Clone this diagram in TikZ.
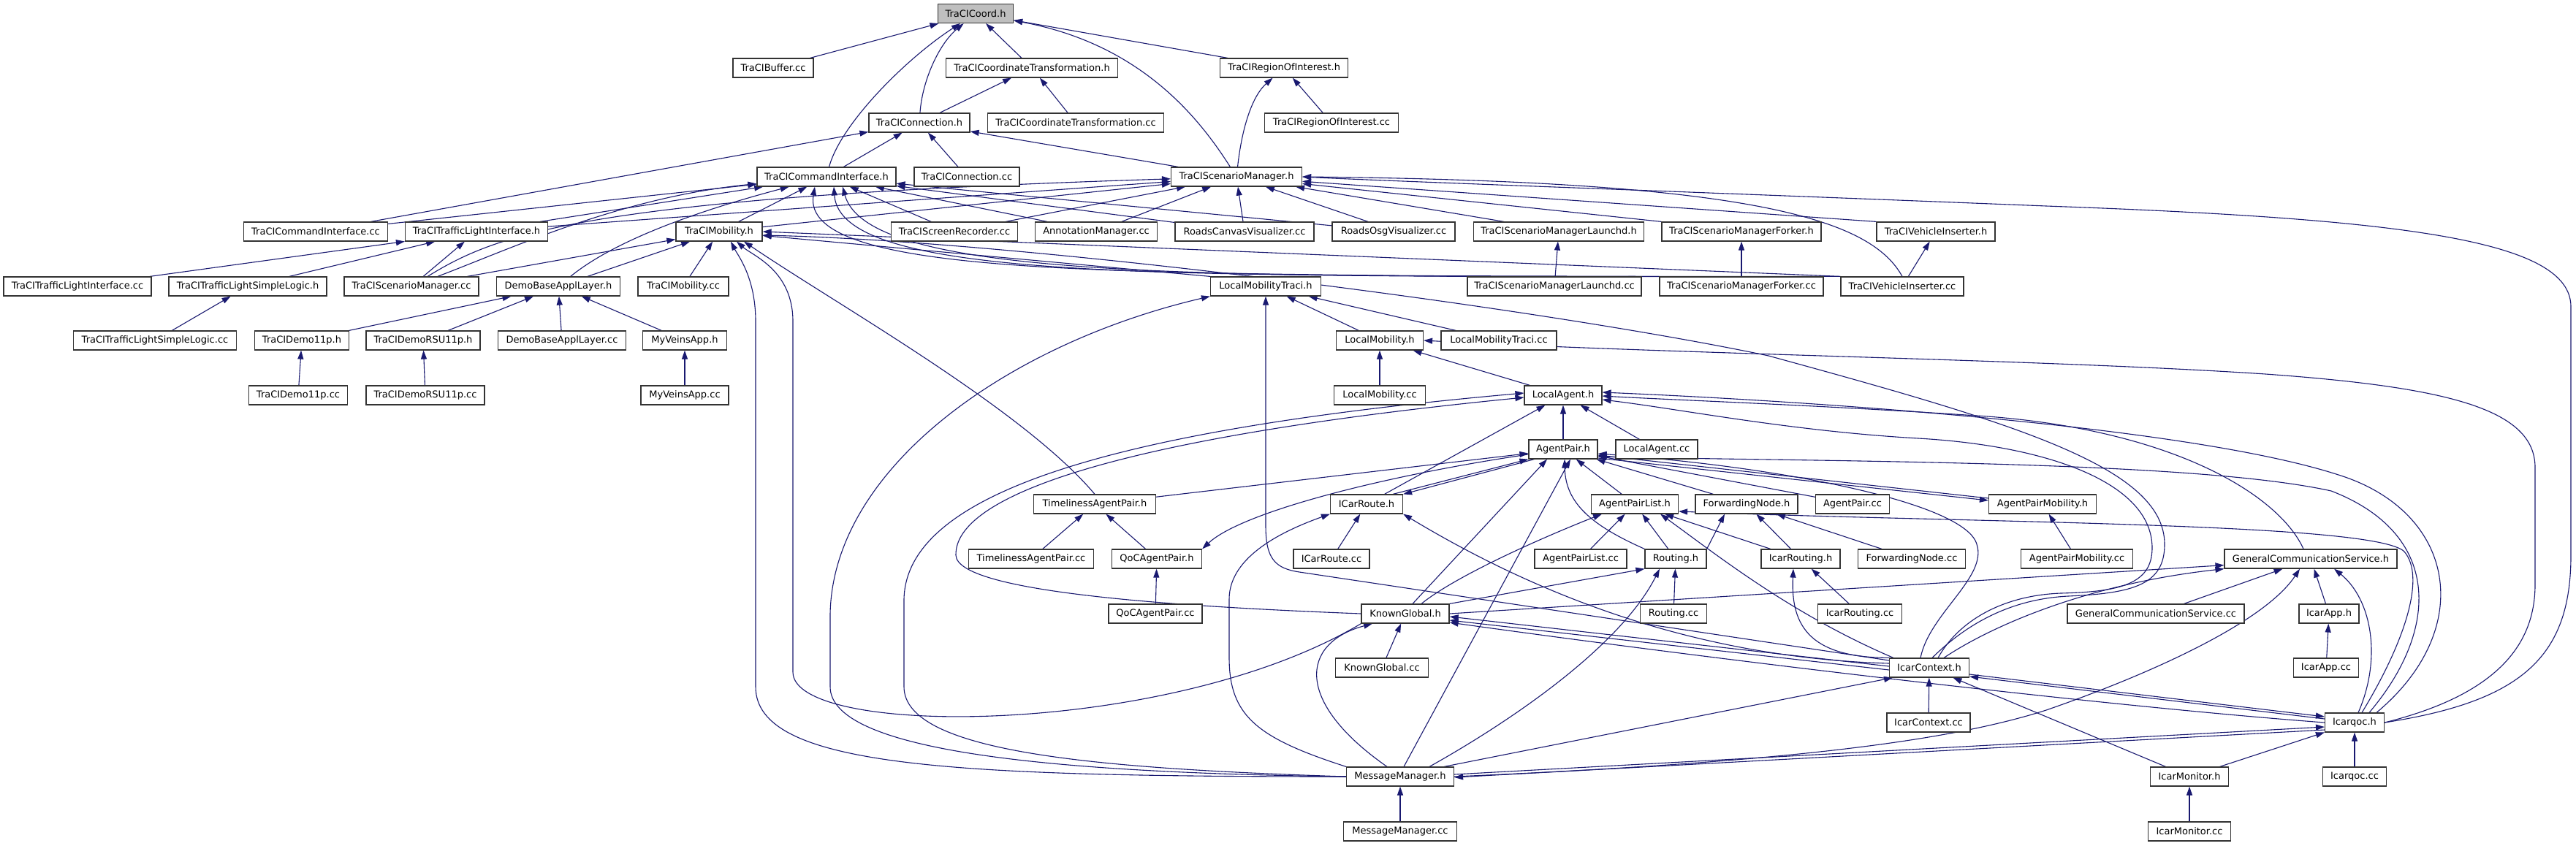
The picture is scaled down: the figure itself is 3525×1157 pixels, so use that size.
\documentclass[tikz,border=0pt]{standalone}
\usepackage{fontspec}
\setmainfont{DejaVu Sans}
\usetikzlibrary{arrows.meta}
\definecolor{eb}{HTML}{191970}
\pgfdeclarelayer{bg}
\pgfsetlayers{bg,main}
\begin{document}
\begin{tikzpicture}[x=1pt,y=-1pt,
  nb/.style={draw=black!80, line width=1.2pt, fill=white, minimum height=26pt, inner xsep=1pt, inner ysep=0pt, font=\fontsize{13}{15}\selectfont, anchor=center},
  e/.style={draw=eb, line width=1.1pt, -{Triangle[length=12pt,width=8pt]}}]
\useasboundingbox (0,0) rectangle (3525,1157);
% ---------------- nodes ----------------
\node[nb,minimum width=103pt,fill=black!25] (coord) at (1335,18.5) {TraCICoord.h};
\node[nb,minimum width=110pt] (buffercc) at (1058,93) {TraCIBuffer.cc};
\node[nb,minimum width=235pt] (ctrans) at (1412,93) {TraCICoordinateTransformation.h};
\node[nb,minimum width=175pt] (roih) at (1757,93) {TraCIRegionOfInterest.h};
\node[nb,minimum width=138pt] (connh) at (1258,168) {TraCIConnection.h};
\node[nb,minimum width=241pt] (ctranscc) at (1472,168) {TraCICoordinateTransformation.cc};
\node[nb,minimum width=183pt] (roicc) at (1822,168) {TraCIRegionOfInterest.cc};
\node[nb,minimum width=190pt] (cih) at (1131,242) {TraCICommandInterface.h};
\node[nb,minimum width=144pt] (conncc) at (1323,242) {TraCIConnection.cc};
\node[nb,minimum width=179pt] (smh) at (1692,242) {TraCIScenarioManager.h};
\node[nb,minimum width=197pt] (cicc) at (432,317) {TraCICommandInterface.cc};
\node[nb,minimum width=195pt] (tlih) at (652,317) {TraCITrafficLightInterface.h};
\node[nb,minimum width=118pt] (mobh) at (984,317) {TraCIMobility.h};
\node[nb,minimum width=173pt] (screc) at (1306,317) {TraCIScreenRecorder.cc};
\node[nb,minimum width=167pt] (annot) at (1500,317) {AnnotationManager.cc};
\node[nb,minimum width=190pt] (canvas) at (1703,317) {RoadsCanvasVisualizer.cc};
\node[nb,minimum width=168pt] (osg) at (1907,317) {RoadsOsgVisualizer.cc};
\node[nb,minimum width=233pt] (launchh) at (2133,317) {TraCIScenarioManagerLaunchd.h};
\node[nb,minimum width=218pt] (forkh) at (2383,317) {TraCIScenarioManagerForker.h};
\node[nb,minimum width=162pt] (vih) at (2649,317) {TraCIVehicleInserter.h};
\node[nb,minimum width=202pt] (tlicc) at (106,392) {TraCITrafficLightInterface.cc};
\node[nb,minimum width=216pt] (tlslh) at (339,392) {TraCITrafficLightSimpleLogic.h};
\node[nb,minimum width=184pt] (smcc) at (563,392) {TraCIScenarioManager.cc};
\node[nb,minimum width=169pt] (dbalh) at (764,392) {DemoBaseApplLayer.h};
\node[nb,minimum width=124pt] (mobcc) at (935,392) {TraCIMobility.cc};
\node[nb,minimum width=151pt] (lmth) at (1732,392) {LocalMobilityTraci.h};
\node[nb,minimum width=238pt] (launchcc) at (2127,392) {TraCIScenarioManagerLaunchd.cc};
\node[nb,minimum width=224pt] (forkcc) at (2383,392) {TraCIScenarioManagerForker.cc};
\node[nb,minimum width=168pt] (vicc) at (2603,392) {TraCIVehicleInserter.cc};
\node[nb,minimum width=223pt] (tlslcc) at (212,466) {TraCITrafficLightSimpleLogic.cc};
\node[nb,minimum width=129pt] (demoh) at (413,466) {TraCIDemo11p.h};
\node[nb,minimum width=156pt] (rsuh) at (579,466) {TraCIDemoRSU11p.h};
\node[nb,minimum width=175pt] (dbalcc) at (769,466) {DemoBaseApplLayer.cc};
\node[nb,minimum width=115pt] (myh) at (937,466) {MyVeinsApp.h};
\node[nb,minimum width=119pt] (lmh) at (1888,466) {LocalMobility.h};
\node[nb,minimum width=158pt] (lmtcc) at (2051,466) {LocalMobilityTraci.cc};
\node[nb,minimum width=135pt] (democc) at (408,541) {TraCIDemo11p.cc};
\node[nb,minimum width=162pt] (rsucc) at (582,541) {TraCIDemoRSU11p.cc};
\node[nb,minimum width=120pt] (mycc) at (937,541) {MyVeinsApp.cc};
\node[nb,minimum width=125pt] (lmcc) at (1888,541) {LocalMobility.cc};
\node[nb,minimum width=106pt] (lah) at (2139,541) {LocalAgent.h};
\node[nb,minimum width=94pt] (aph) at (2139,615) {AgentPair.h};
\node[nb,minimum width=112pt] (lacc) at (2267,615) {LocalAgent.cc};
\node[nb,minimum width=167pt] (tapph) at (1498,690) {TimelinessAgentPair.h};
\node[nb,minimum width=99pt] (icrh) at (1870,690) {ICarRoute.h};
\node[nb,minimum width=119pt] (aplh) at (2237,690) {AgentPairList.h};
\node[nb,minimum width=140pt] (fnh) at (2390,690) {ForwardingNode.h};
\node[nb,minimum width=101pt] (apcc) at (2535,690) {AgentPair.cc};
\node[nb,minimum width=147pt] (apmh) at (2795,690) {AgentPairMobility.h};
\node[nb,minimum width=171pt] (tappcc) at (1411,765) {TimelinessAgentPair.cc};
\node[nb,minimum width=123pt] (qoch) at (1583,765) {QoCAgentPair.h};
\node[nb,minimum width=104pt] (icrcc) at (1822,765) {ICarRoute.cc};
\node[nb,minimum width=126pt] (aplcc) at (2163,765) {AgentPairList.cc};
\node[nb,minimum width=84pt] (routh) at (2293,765) {Routing.h};
\node[nb,minimum width=108pt] (irouth) at (2464,765) {IcarRouting.h};
\node[nb,minimum width=147pt] (fncc) at (2616,765) {ForwardingNode.cc};
\node[nb,minimum width=153pt] (apmcc) at (2842,765) {AgentPairMobility.cc};
\node[nb,minimum width=236pt] (gcsh) at (3162,765) {GeneralCommunicationService.h};
\node[nb,minimum width=128pt] (qoccc) at (1581,840) {QoCAgentPair.cc};
\node[nb,minimum width=120pt] (kgh) at (1923,840) {KnownGlobal.h};
\node[nb,minimum width=91pt] (routcc) at (2290,840) {Routing.cc};
\node[nb,minimum width=115pt] (iroutcc) at (2545,840) {IcarRouting.cc};
\node[nb,minimum width=242pt] (gcscc) at (2950,840) {GeneralCommunicationService.cc};
\node[nb,minimum width=82pt] (iapph) at (3187,840) {IcarApp.h};
\node[nb,minimum width=127pt] (kgcc) at (1891,914) {KnownGlobal.cc};
\node[nb,minimum width=109pt] (ictxh) at (2640,914) {IcarContext.h};
\node[nb,minimum width=89pt] (iappcc) at (3183,914) {IcarApp.cc};
\node[nb,minimum width=114pt] (ictxcc) at (2639,989) {IcarContext.cc};
\node[nb,minimum width=81pt] (qh) at (3222,989) {Icarqoc.h};
\node[nb,minimum width=147pt] (mmh) at (1916,1063) {MessageManager.h};
\node[nb,minimum width=107pt] (imh) at (2996,1063) {IcarMonitor.h};
\node[nb,minimum width=87pt] (qcc) at (3222,1063) {Icarqoc.cc};
\node[nb,minimum width=155pt] (mmcc) at (1916,1138) {MessageManager.cc};
\node[nb,minimum width=113pt] (imcc) at (2996,1138) {IcarMonitor.cc};
% ---------------- edges ----------------
\begin{pgfonlayer}{bg}
\fill[white] (0,0) rectangle (3525,1157);
% top levels
\draw[e] (buffercc) -- (coord);
\draw[e] (ctrans) -- (coord);
\draw[e] (roih) -- (coord);
\draw[e] (connh) .. controls (1262,110) and (1285,60) .. (coord);
\draw[e] (cih) .. controls (1150,170) and (1240,80) .. (coord);
\draw[e] (smh) .. controls (1640,160) and (1560,60) .. (coord);
\draw[e] (connh) -- (ctrans);
\draw[e] (ctranscc) -- (ctrans);
\draw[e] (smh) .. controls (1700,170) and (1715,130) .. (roih);
\draw[e] (roicc) -- (roih);
\draw[e] (cicc) -- (connh);
\draw[e] (cih) -- (connh);
\draw[e] (conncc) -- (connh);
\draw[e] (smh) -- (connh);
% row 317
\draw[e] (cicc) -- (cih);
\draw[e] (tlih) -- (cih);
\draw[e] (tlih) -- (smh);
\draw[e] (mobh) -- (cih);
\draw[e] (mobh) -- (smh);
\draw[e] (screc) -- (cih);
\draw[e] (screc) -- (smh);
\draw[e] (annot) -- (cih);
\draw[e] (annot) -- (smh);
\draw[e] (canvas) -- (cih);
\draw[e] (canvas) -- (smh);
\draw[e] (osg) -- (cih);
\draw[e] ([xshift=-35pt]osg.north) -- (smh);
\draw[e] ([xshift=-75pt]launchh.north) -- (smh);
\draw[e] (forkh.north west) -- (smh);
\draw[e] (vih.north west) -- (smh);
% row 392
\draw[e] (tlicc) -- (tlih);
\draw[e] (tlslh) -- (tlih);
\draw[e] (smcc) -- (tlih);
\draw[e] (smcc) .. controls (700,340) and (850,270) .. (cih);
\draw[e] (smcc) .. controls (680,320) and (800,270) .. (smh);
\draw[e] (smcc) -- (mobh);
\draw[e] (dbalh) .. controls (840,330) and (950,290) .. (cih);
\draw[e] (dbalh) -- (mobh);
\draw[e] (mobcc) -- (mobh);
\draw[e] (launchcc) -- (launchh);
\draw[e] (forkcc) -- (forkh);
\draw[e] (vicc) -- (vih);
\draw[e] (vicc.north) .. controls (2560,300) and (2400,248) .. (smh.east);
\draw[e] (launchcc.north west) .. controls (1500,372) and (1095,375) .. ([xshift=-16pt]cih.south);
\draw[e] (forkcc.north west) .. controls (1600,376) and (1150,385) .. ([xshift=10pt]cih.south);
\draw[e] (vicc.north west) .. controls (1700,378) and (1190,390) .. ([xshift=22pt]cih.south);
\draw[e] (vicc.north west) -- (mobh.east);
\draw[e] (lmth.north west) -- (mobh);
\draw[e] (tapph.north) .. controls (1400,560) and (1150,420) .. ([xshift=34pt]mobh.south);
% demo apps
\draw[e] (demoh) -- (dbalh);
\draw[e] (rsuh) -- (dbalh);
\draw[e] (dbalcc) -- (dbalh);
\draw[e] (myh) -- (dbalh);
\draw[e] (democc) -- (demoh);
\draw[e] (rsucc) -- (rsuh);
\draw[e] (mycc) -- (myh);
\draw[e] (tlslcc) -- (tlslh);
% local mobility / agent
\draw[e] (lmh) -- (lmth);
\draw[e] (lmtcc) -- (lmth);
\draw[e] (lmcc) -- (lmh);
\draw[e] (lah) -- (lmh);
\draw[e] (aph) -- (lah);
\draw[e] (lacc) -- (lah);
\draw[e] (icrh) -- (lah);
\draw[e] (tapph) -- (aph);
\draw[e] (tappcc) -- (tapph);
\draw[e] (qoch) -- (tapph);
\draw[e] (qoccc) -- (qoch);
\draw[e] (aph) .. controls (1900,650) and (1700,700) .. (qoch.north east);
% message manager long routes
\draw[e] (mmh.west) .. controls (1300,1063) and (1034,1050) .. (1034,940) -- (1034,440) .. controls (1034,380) and (1010,350) .. ([xshift=16pt]mobh.south);
\draw[e] (kgh.south west) .. controls (1600,1010) and (1085,1010) .. (1085,920) -- (1085,440) .. controls (1085,370) and (1030,350) .. ([xshift=24pt]mobh.south);
\draw[e] (mmh.west) .. controls (1450,1058) and (1136,1030) .. (1136,940) -- (1136,840) .. controls (1140,640) and (1380,470) .. (lmth.south west);
\draw[e] (mmh.west) .. controls (1500,1052) and (1237,1030) .. (1237,940) -- (1237,820) .. controls (1240,680) and (1500,590) .. ([yshift=3pt]lah.west);
\draw[e] (kgh.west) .. controls (1600,830) and (1310,810) .. (1308,760) .. controls (1306,680) and (1520,600) .. ([yshift=-3pt]lah.west);
\draw[e] ([xshift=5pt]mmh.north) -- ([xshift=10pt]aph.south);
\draw[e] (mmh.north west) .. controls (1720,1010) and (1682,980) .. (1682,900) -- (1682,820) .. controls (1682,760) and (1760,725) .. (icrh.south west);
\draw[e] ([xshift=-18pt]mmh.north) .. controls (1770,960) and (1780,880) .. ([xshift=-45pt]kgh.south);
\draw[e] ([xshift=40pt]mmh.north) .. controls (2080,980) and (2220,880) .. ([xshift=-22pt]routh.south);
\draw[e] ([xshift=60pt]mmh.north) -- ([xshift=-50pt]ictxh.south);
\draw[e] (mmh.east) .. controls (2400,1045) and (2650,1020) .. (2800,972) .. controls (2950,920) and (3100,850) .. ([xshift=-15pt]gcsh.south);
\draw[e] ([yshift=3pt]mmh.east) -- ([yshift=-6pt]qh.west);
\draw[e] ([yshift=-10pt]qh.west) -- ([yshift=-1pt]mmh.east);
\draw[e] (mmcc) -- (mmh);
% known global
\draw[e] (kgcc) -- (kgh);
\draw[e] ([xshift=10pt]kgh.north) -- ([xshift=-22pt]aph.south);
\draw[e] ([xshift=22pt]kgh.north) .. controls (1990,790) and (2100,740) .. ([xshift=-45pt]aplh.south);
\draw[e] (kgh.north east) -- (routh.south west);
\draw[e] (kgh.east) -- ([yshift=5pt]gcsh.south west);
% icar context
\draw[e] ([yshift=2pt]ictxh.west) -- ([yshift=-4pt]kgh.east);
\draw[e] ([yshift=-3pt]ictxh.west) -- ([yshift=-9pt]kgh.east);
\draw[e] (qh.west) .. controls (2900,968) and (2400,910) .. ([yshift=-12pt]kgh.east);
\draw[e] ([yshift=-9pt]ictxh.east) -- ([yshift=8pt]qh.west);
\draw[e] ([yshift=5pt]qh.west) -- ([yshift=-12pt]ictxh.east);
\draw[e] (imh) -- (ictxh);
\draw[e] (imh) -- (qh);
\draw[e] (imcc) -- (imh);
\draw[e] (qcc) -- (qh);
\draw[e] (ictxcc) -- (ictxh);
\draw[e] ([xshift=20pt]ictxh.north) .. controls (2720,860) and (2850,800) .. (gcsh.south west);
\draw[e] (gcscc) -- (gcsh);
\draw[e] (iapph) -- (gcsh);
\draw[e] (iappcc) -- (iapph);
\draw[e] ([xshift=5pt]qh.north) .. controls (3260,900) and (3245,820) .. ([xshift=32pt]gcsh.south);
\draw[e] ([xshift=10pt]qh.north) .. controls (3290,880) and (3320,790) .. (3290,755) .. controls (3250,715) and (2700,716) .. ([yshift=-10pt]aplh.east);
\draw[e] ([xshift=20pt]qh.north) .. controls (3340,860) and (3340,730) .. (3190,672) .. controls (3000,630) and (2500,632) .. ([yshift=-10pt]aph.east);
\draw[e] ([xshift=30pt]qh.north) .. controls (3390,860) and (3360,700) .. (3200,650) .. controls (3000,585) and (2500,550) .. ([yshift=4pt]lah.east);
\draw[e] ([xshift=-10pt]gcsh.north) .. controls (3120,680) and (2980,590) .. (2720,570) .. controls (2500,555) and (2300,548) .. ([yshift=-1pt]lah.east);
\draw[e] ([xshift=12pt]ictxh.north) .. controls (2680,850) and (2740,815) .. (2820,812) .. controls (2900,810) and (2945,800) .. (2945,750) .. controls (2945,660) and (2800,610) .. (2625,600) .. controls (2450,590) and (2300,560) .. ([yshift=-6pt]lah.east);
\draw[e] ([xshift=4pt]ictxh.north) .. controls (2690,855) and (2750,820) .. (2830,816) .. controls (2920,812) and (2962,800) .. (2962,745) .. controls (2962,640) and (2760,580) .. (2420,487) .. controls (2100,420) and (1400,330) .. ([yshift=-5pt]mobh.east);
\draw[e] ([xshift=-12pt]ictxh.north) .. controls (2640,840) and (2720,790) .. (2705,745) .. controls (2690,690) and (2450,640) .. ([yshift=-6pt]aph.east);
\draw[e] ([xshift=6pt]ictxh.north west) .. controls (2450,840) and (2350,760) .. ([xshift=35pt]aplh.south);
\draw[e] (ictxh.north west) .. controls (2480,900) and (2450,860) .. ([xshift=-10pt]irouth.south);
\draw[e] ([yshift=6pt]ictxh.west) .. controls (2300,900) and (2080,800) .. (icrh.south east);
\draw[e] ([yshift=10pt]ictxh.west) -- (1778,783) .. controls (1745,778) and (1732,765) .. (1732,720) -- (lmth.south);
% long loops from Icarqoc.h
\draw[e] (qh.east) .. controls (3450,960) and (3518,900) .. (3518,760) -- (3518,420) .. controls (3518,330) and (3300,300) .. (2800,282) .. controls (2300,262) and (1900,248) .. (smh.east);
\draw[e] (qh.east) .. controls (3420,950) and (3469,880) .. (3469,800) -- (3469,640) .. controls (3469,560) and (3350,530) .. (3100,512) .. controls (2800,492) and (2300,485) .. (lmh.east);
% agent pair cluster
\draw[e] (apmcc) -- (apmh);
\draw[e] (aplcc) -- (aplh);
\draw[e] (routh) -- (aplh);
\draw[e] (irouth) -- (aplh);
\draw[e] (routh.north east) -- ([xshift=-30pt]fnh.south);
\draw[e] (irouth) -- (fnh);
\draw[e] (fncc) -- (fnh);
\draw[e] (routcc) -- (routh);
\draw[e] (iroutcc) -- (irouth);
\draw[e] (icrcc) -- (icrh);
\draw[e] (routh.north west) .. controls (2180,720) and (2142,690) .. ([xshift=2pt]aph.south);
\draw[e] (aplh) -- (aph);
\draw[e] (fnh) -- (aph);
\draw[e] (apcc) -- (aph);
\draw[e] ([yshift=8pt]apmh.west) -- ([yshift=-8pt]aph.east);
\draw[e] ([yshift=-12pt]aph.east) -- ([yshift=5pt]apmh.west);
\draw[e] ([xshift=-14pt]icrh.north east) -- (aph.south west);
\draw[e] ([xshift=8pt]aph.south west) -- (icrh.north east);
\end{pgfonlayer}
\end{tikzpicture}
\end{document}
